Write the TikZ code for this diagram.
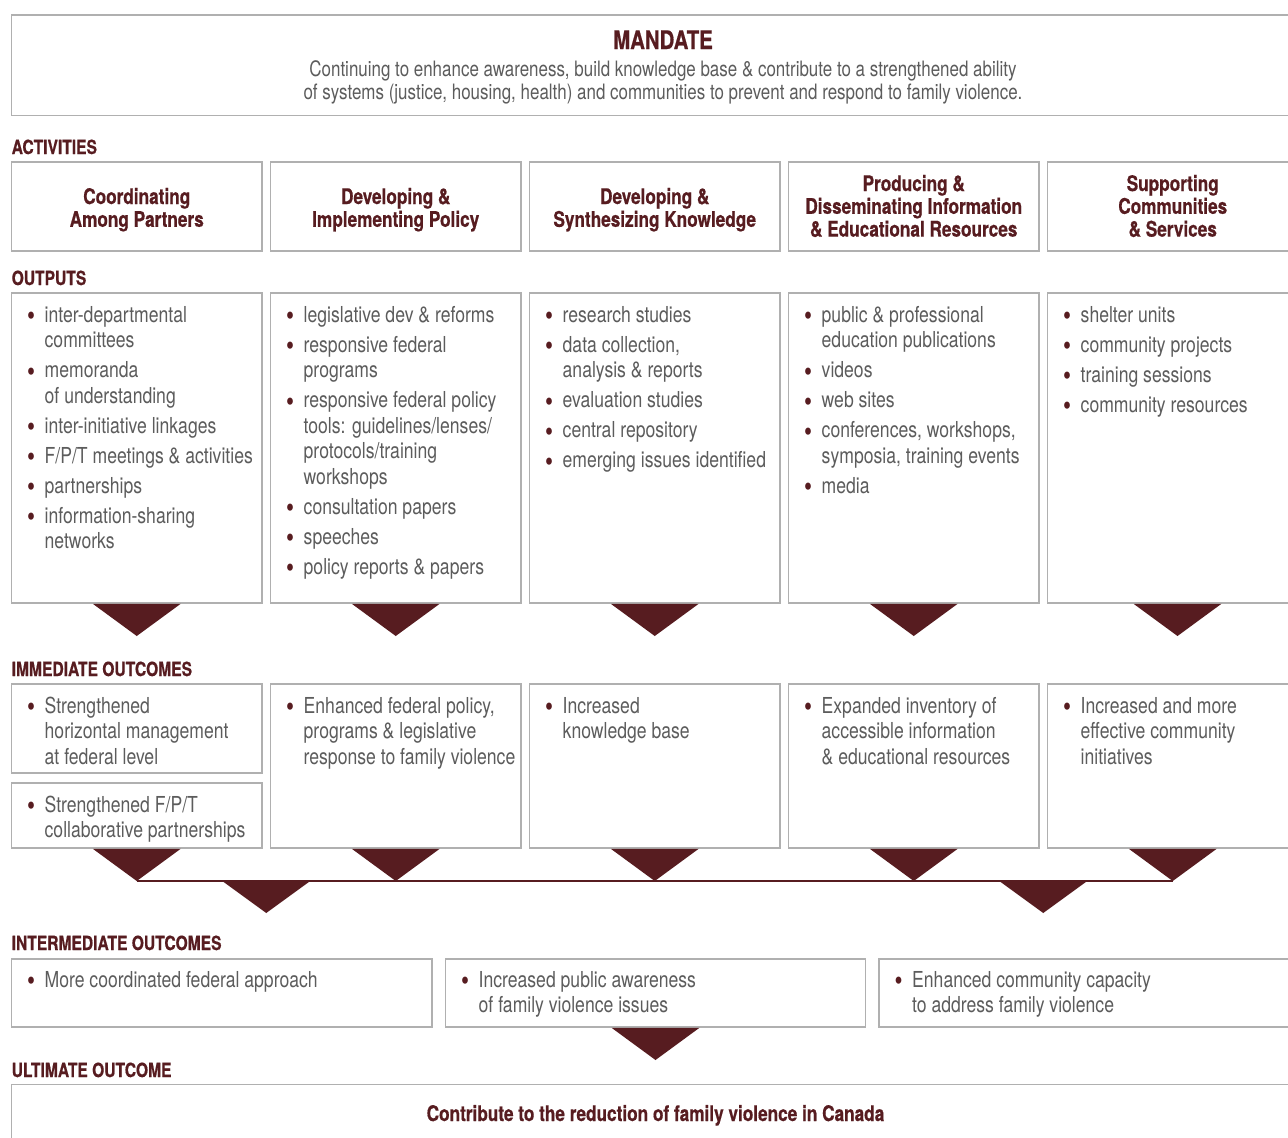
\documentclass[tikz,border=0pt]{standalone}
\usepackage{fontspec}
\setmainfont{TeX Gyre Heros}[FakeStretch=0.8, BoldFeatures={FakeBold=0.6}]
\usetikzlibrary{calc}
\definecolor{dred}{HTML}{571C20}
\definecolor{tgray}{HTML}{5C5C5C}
\definecolor{bgray}{HTML}{B0B0B0}
\newcommand\bodyfont{\fontsize{22}{25.5}\selectfont}
\newcommand\bul{\textcolor{dred}{\raisebox{-0.17em}{\scalebox{1.3}{•}}}}
\newcommand\bi[1]{\hbox{\hbox to 17pt{\hskip-0.5pt\bul\hss}#1}}
\newcommand\ci[1]{\hbox{\kern17pt #1}}
\newcommand\gap{\vskip4.5pt}
\newcommand\blist[1]{\vtop{\bodyfont\baselineskip=25.5pt\lineskiplimit=-20pt #1}}
\newcommand\mcl[1]{\hbox to 0pt{\hss#1\hss}}
\newcommand\tlist[1]{\vtop{\baselineskip=22.8pt\lineskiplimit=-20pt #1}}
\tikzset{
  box/.style={draw=bgray, line width=1.5pt, rectangle, inner sep=0pt, outer sep=0pt, anchor=north west},
  sect/.style={anchor=base west, inner sep=0pt, text=dred, font=\bfseries\fontsize{19.5}{22}\selectfont},
  txt/.style={anchor=base west, inner sep=0pt, text=tgray},
  ttl/.style={anchor=base, inner sep=0pt, text=dred, font=\bfseries\fontsize{21.5}{22.8}\selectfont},
  tri/.style={fill=dred}
}
\begin{document}
\begin{tikzpicture}[x=1pt,y=-1pt]
\useasboundingbox (0,0) rectangle (1288,1138);
\clip (0,0) rectangle (1288,1138);
\fill[white] (0,0) rectangle (1288,1138);

% ---------- MANDATE ----------
\node[box, minimum width=1300pt, minimum height=100.5pt] (mand) at (11.5,15) {};
\node[anchor=base, inner sep=0pt, text=dred, font=\bfseries\fontsize{25.5}{28}\selectfont] (mt) at (663,49) {MANDATE};
\node[anchor=base, inner sep=0pt, text=tgray, font=\fontsize{21.2}{23.5}\selectfont] (ml1) at (663,76) {Continuing to enhance awareness, build knowledge base \& contribute to a strengthened ability};
\node[anchor=base, inner sep=0pt, text=tgray, font=\fontsize{21.2}{23.5}\selectfont] (ml2) at (663,99.5) {of systems (justice, housing, health) and communities to prevent and respond to family violence.};

% ---------- ACTIVITIES ----------
\node[sect] (sa) at (11.5,154) {ACTIVITIES};
\node[box, minimum width=250.5pt, minimum height=89pt] (a1) at (11.5,162) {};
\node[box, minimum width=250.5pt, minimum height=89pt] (a2) at (270.5,162) {};
\node[box, minimum width=250.5pt, minimum height=89pt] (a3) at (529.5,162) {};
\node[box, minimum width=250.5pt, minimum height=89pt] (a4) at (788.5,162) {};
\node[box, minimum width=260pt, minimum height=89pt] (a5) at (1047.5,162) {};
\node[ttl] (a1t) at (136.75,204) {\tlist{\mcl{Coordinating}\mcl{Among Partners}}};
\node[ttl] (a2t) at (395.75,204) {\tlist{\mcl{Developing \&}\mcl{Implementing Policy}}};
\node[ttl] (a3t) at (654.75,204) {\tlist{\mcl{Developing \&}\mcl{Synthesizing Knowledge}}};
\node[ttl] (a4t) at (913.75,191) {\tlist{\mcl{Producing \&}\mcl{Disseminating Information}\mcl{\& Educational Resources}}};
\node[ttl] (a5t) at (1172.75,191) {\tlist{\mcl{Supporting}\mcl{Communities}\mcl{\& Services}}};

% ---------- OUTPUTS ----------
\node[sect] (so) at (11.5,285) {OUTPUTS};
\node[box, minimum width=250.5pt, minimum height=310pt] (o1) at (11.5,293) {};
\node[box, minimum width=250.5pt, minimum height=310pt] (o2) at (270.5,293) {};
\node[box, minimum width=250.5pt, minimum height=310pt] (o3) at (529.5,293) {};
\node[box, minimum width=250.5pt, minimum height=310pt] (o4) at (788.5,293) {};
\node[box, minimum width=260pt, minimum height=310pt] (o5) at (1047.5,293) {};
\node[txt] (o1t) at (27.5,322) {\blist{\bi{inter-departmental}\ci{committees}\gap\bi{memoranda}\ci{of understanding}\gap\bi{inter-initiative linkages}\gap\bi{F/P/T meetings \& activities}\gap\bi{partnerships}\gap\bi{information-sharing}\ci{networks}}};
\node[txt] (o2t) at (286.5,322) {\blist{\bi{legislative dev \& reforms}\gap\bi{responsive federal}\ci{programs}\gap\bi{responsive federal policy}\ci{tools: guidelines/lenses/}\ci{protocols/training}\ci{workshops}\gap\bi{consultation papers}\gap\bi{speeches}\gap\bi{policy reports \& papers}}};
\node[txt] (o3t) at (545.5,322) {\blist{\bi{research studies}\gap\bi{data collection,}\ci{analysis \& reports}\gap\bi{evaluation studies}\gap\bi{central repository}\gap\bi{emerging issues identified}}};
\node[txt] (o4t) at (804.5,322) {\blist{\bi{public \& professional}\ci{education publications}\gap\bi{videos}\gap\bi{web sites}\gap\bi{conferences, workshops,}\ci{symposia, training events}\gap\bi{media}}};
\node[txt] (o5t) at (1063.5,322) {\blist{\bi{shelter units}\gap\bi{community projects}\gap\bi{training sessions}\gap\bi{community resources}}};

\foreach \b in {o1,o2,o3,o4,o5}{
  \fill[tri] ([xshift=-44pt,yshift=-0.75pt]\b.south) -- ([xshift=44pt,yshift=-0.75pt]\b.south) -- ([yshift=-33pt]\b.south) -- cycle;
}

% ---------- IMMEDIATE OUTCOMES ----------
\node[sect] (si) at (11.5,676) {IMMEDIATE OUTCOMES};
\node[box, minimum width=250.5pt, minimum height=89pt] (i1a) at (11.5,684) {};
\node[box, minimum width=250.5pt, minimum height=65pt] (i1b) at (11.5,783) {};
\node[box, minimum width=250.5pt, minimum height=164pt] (i2) at (270.5,684) {};
\node[box, minimum width=250.5pt, minimum height=164pt] (i3) at (529.5,684) {};
\node[box, minimum width=250.5pt, minimum height=164pt] (i4) at (788.5,684) {};
\node[box, minimum width=260pt, minimum height=164pt] (i5) at (1047.5,684) {};
\node[txt] (i1at) at (27.5,713) {\blist{\bi{Strengthened}\ci{horizontal management}\ci{at federal level}}};
\node[txt] (i1bt) at (27.5,812) {\blist{\bi{Strengthened F/P/T}\ci{collaborative partnerships}}};
\node[txt] (i2t) at (286.5,713) {\blist{\bi{Enhanced federal policy,}\ci{programs \& legislative}\ci{response to family violence}}};
\node[txt] (i3t) at (545.5,713) {\blist{\bi{Increased}\ci{knowledge base}}};
\node[txt] (i4t) at (804.5,713) {\blist{\bi{Expanded inventory of}\ci{accessible information}\ci{\& educational resources}}};
\node[txt] (i5t) at (1063.5,713) {\blist{\bi{Increased and more}\ci{effective community}\ci{initiatives}}};

\coordinate (t1) at ([yshift=-33pt]i1b.south);
\coordinate (t2) at ([yshift=-33pt]i2.south);
\coordinate (t3) at ([yshift=-33pt]i3.south);
\coordinate (t4) at ([yshift=-33pt]i4.south);
\coordinate (t5) at ([xshift=-4.75pt,yshift=-33pt]i5.south);
\foreach \b/\t in {i1b/t1,i2/t2,i3/t3,i4/t4}{
  \fill[tri] ([xshift=-44pt,yshift=-0.75pt]\b.south) -- ([xshift=44pt,yshift=-0.75pt]\b.south) -- (\t) -- cycle;
}
\fill[tri] ([xshift=-48.75pt,yshift=-0.75pt]i5.south) -- ([xshift=39.25pt,yshift=-0.75pt]i5.south) -- (t5) -- cycle;
\draw[dred, line width=1.5pt] (t1) -- (t5);
\coordinate (x1) at ($(t1)!0.5!(t2)$);
\coordinate (x2) at ($(t4)!0.5!(t5)$);
\foreach \c in {x1,x2}{
  \fill[tri] ([xshift=-44pt]\c) -- ([xshift=44pt]\c) -- ([yshift=-32pt]\c) -- cycle;
}

% ---------- INTERMEDIATE OUTCOMES ----------
\node[sect] (sm) at (11.5,950) {INTERMEDIATE OUTCOMES};
\node[box, minimum width=420.5pt, minimum height=68pt] (m1) at (11.5,959) {};
\node[box, minimum width=420pt, minimum height=68pt] (m2) at (445.5,959) {};
\node[box, minimum width=430pt, minimum height=68pt] (m3) at (879,959) {};
\node[txt] (m1t) at (27.5,987) {\blist{\bi{More coordinated federal approach}}};
\node[txt] (m2t) at (461.5,987) {\blist{\bi{Increased public awareness}\ci{of family violence issues}}};
\node[txt] (m3t) at (895,987) {\blist{\bi{Enhanced community capacity}\ci{to address family violence}}};
\fill[tri] ([xshift=-44pt,yshift=-0.75pt]m2.south) -- ([xshift=44pt,yshift=-0.75pt]m2.south) -- ([yshift=-33pt]m2.south) -- cycle;

% ---------- ULTIMATE OUTCOME ----------
\node[sect] (su) at (11.5,1077) {ULTIMATE OUTCOME};
\node[box, minimum width=1300pt, minimum height=100pt] (ult) at (11.5,1084.5) {};
\node[ttl] (ut) at (655.5,1121) {Contribute to the reduction of family violence in Canada};
\end{tikzpicture}
\end{document}
